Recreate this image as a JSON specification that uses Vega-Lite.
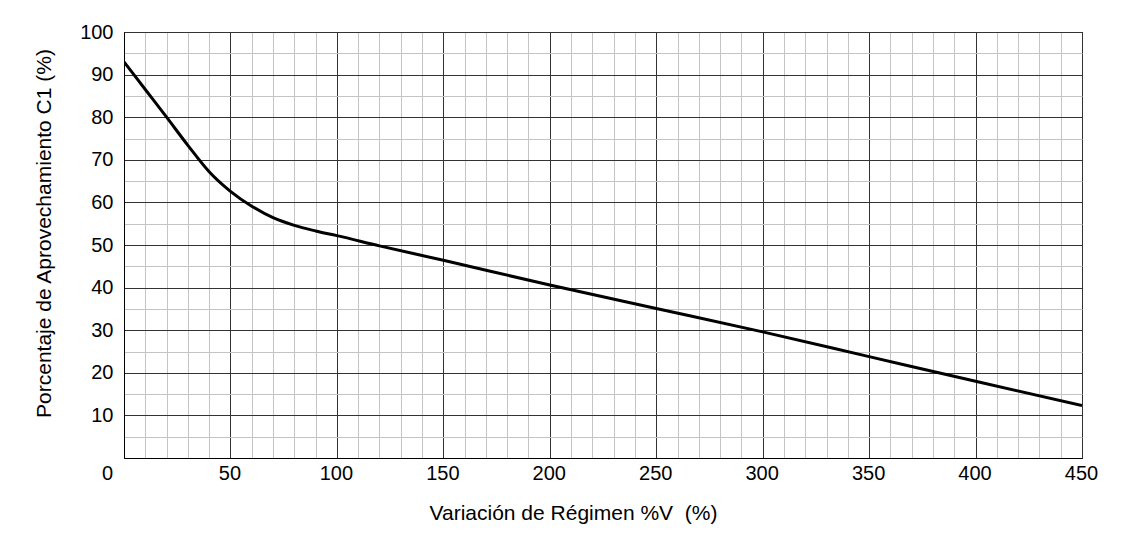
{
  "$schema": "https://vega.github.io/schema/vega-lite/v6.json",
  "width": 958,
  "height": 426,
  "autosize": {"type": "none"},
  "padding": {"left": 124, "top": 32, "right": 56, "bottom": 81},
  "background": "white",
  "config": {
    "view": {"stroke": "#000", "strokeWidth": 1},
    "font": "Liberation Sans"
  },
  "data": {
    "values": [
      {"v": 0, "c": 93.0},
      {"v": 10, "c": 86.5},
      {"v": 20, "c": 80.0},
      {"v": 30, "c": 73.4},
      {"v": 40, "c": 67.2},
      {"v": 50, "c": 62.6},
      {"v": 60, "c": 59.1},
      {"v": 70, "c": 56.4},
      {"v": 80, "c": 54.6},
      {"v": 90, "c": 53.3},
      {"v": 100, "c": 52.2},
      {"v": 120, "c": 49.8},
      {"v": 150, "c": 46.4},
      {"v": 200, "c": 40.6},
      {"v": 250, "c": 35.1},
      {"v": 300, "c": 29.6},
      {"v": 350, "c": 23.8},
      {"v": 400, "c": 18.0},
      {"v": 450, "c": 12.3}
    ]
  },
  "mark": {"type": "line", "interpolate": "monotone", "color": "#000", "strokeWidth": 3, "clip": true},
  "encoding": {
    "x": {
      "field": "v",
      "type": "quantitative",
      "scale": {"domain": [0, 450], "nice": false, "zero": false},
      "axis": {
        "values": [0,10,20,30,40,50,60,70,80,90,100,110,120,130,140,150,160,170,180,190,200,210,220,230,240,250,260,270,280,290,300,310,320,330,340,350,360,370,380,390,400,410,420,430,440,450],
        "labelExpr": "datum.value % 50 === 0 ? datum.label : ''",
        "labelOffset": {"condition": {"test": "datum.value === 0", "value": -17}, "value": -1},
        "labelFontSize": 20,
        "labelColor": "#000",
        "labelPadding": 5,
        "labelFlush": false,
        "labelOverlap": false,
        "ticks": false,
        "domain": true,
        "domainColor": "#000",
        "grid": true,
        "gridColor": {"condition": {"test": "datum.value % 50 === 0", "value": "#333"}, "value": "#c4c4c4"},
        "gridOpacity": 1,
        "gridWidth": 1,
        "title": "Variación de Régimen %V\u00a0 (%)",
        "titleFontSize": 21,
        "titleFontWeight": "normal",
        "titleColor": "#000",
        "titleX": 449,
        "titleY": 61,
        "titleAlign": "center",
        "titleBaseline": "alphabetic"
      }
    },
    "y": {
      "field": "c",
      "type": "quantitative",
      "scale": {"domain": [0, 100], "nice": false},
      "axis": {
        "values": [0,5,10,15,20,25,30,35,40,45,50,55,60,65,70,75,80,85,90,95,100],
        "labelExpr": "datum.value % 10 === 0 && datum.value > 0 ? datum.label : ''",
        "labelFontSize": 20,
        "labelColor": "#000",
        "labelPadding": 11,
        "labelFlush": false,
        "labelOverlap": false,
        "ticks": false,
        "domain": true,
        "domainColor": "#000",
        "grid": true,
        "gridColor": {"condition": {"test": "datum.value % 10 === 0", "value": "#333"}, "value": "#c4c4c4"},
        "gridOpacity": 1,
        "gridWidth": 1,
        "title": "Porcentaje de Aprovechamiento C1 (%)",
        "titleFontSize": 21,
        "titleFontWeight": "normal",
        "titleColor": "#000",
        "titleX": -80,
        "titleY": 201,
        "titleAngle": -90,
        "titleAlign": "center",
        "titleBaseline": "middle"
      }
    }
  }
}
